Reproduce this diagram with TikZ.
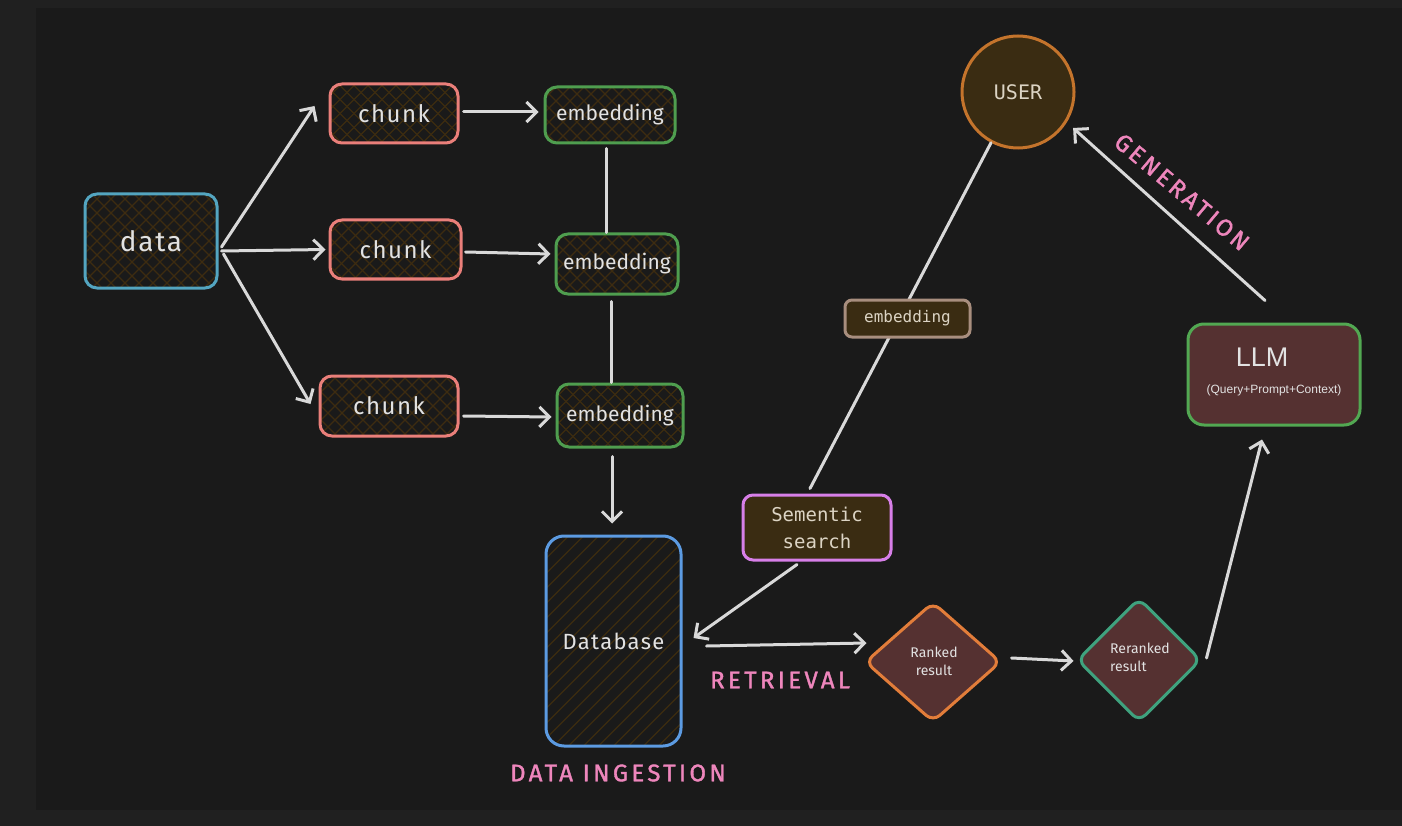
\documentclass[tikz,border=0pt]{standalone}
\usepackage{fontspec}
\setmainfont{Fira Sans}
\newfontfamily\monofont{DejaVu Sans Mono}
\newfontfamily\arialfont{Liberation Sans}
\newfontfamily\wideface[LetterSpace=6]{Fira Sans}
\newfontfamily\stageface[LetterSpace=14,FakeBold=1.5]{Fira Sans}
\usetikzlibrary{arrows.meta,shapes.geometric}

\definecolor{outerbg}{HTML}{202020}
\definecolor{innerbg}{HTML}{1A1A1A}
\definecolor{linec}{HTML}{D9D9D9}
\definecolor{hatchc}{HTML}{3D2C10}
\definecolor{txtc}{HTML}{E2E2E2}
\definecolor{monotxt}{HTML}{DCD4C4}
\definecolor{pinkc}{HTML}{EE86BC}
\definecolor{darkbrown}{HTML}{3A2C12}
\definecolor{maroon}{HTML}{553131}
\definecolor{datab}{HTML}{53A5C0}
\definecolor{chunkb}{HTML}{EA7F7A}
\definecolor{embb}{HTML}{4F9E4F}
\definecolor{dbb}{HTML}{5C9BE2}
\definecolor{semb}{HTML}{D77FE8}
\definecolor{elb}{HTML}{A88E7E}
\definecolor{userb}{HTML}{C4742C}
\definecolor{rankb}{HTML}{E27D3A}
\definecolor{rerankb}{HTML}{3FA27E}
\definecolor{llmb}{HTML}{52A852}

\tikzset{
  crosshatch/.style={path picture={
    \foreach \i in {-320,-306,...,320} {
      \draw[hatchc, line width=1.3pt]
        ([shift={(\i,0)}]path picture bounding box.center) ++(-160,-160) -- ++(320,320);
      \draw[hatchc, line width=1.3pt]
        ([shift={(\i,0)}]path picture bounding box.center) ++(-160,160) -- ++(320,-320);
    }}},
  slanthatch/.style={path picture={
    \foreach \i in {-360,-345,...,360} {
      \draw[hatchc, line width=1.3pt]
        ([shift={(\i,0)}]path picture bounding box.center) ++(-200,200) -- ++(400,-400);
    }}},
  hbox/.style={draw, line width=3pt, rounded corners=12pt, fill=innerbg,
    text=txtc, inner sep=0pt, crosshatch},
  chunkbox/.style={hbox, draw=chunkb, font=\wideface\fontsize{24}{26}\selectfont},
  embbox/.style={hbox, draw=embb, font=\fontsize{21}{23}\selectfont},
  monobox/.style={draw, line width=3pt, rounded corners=10pt, fill=darkbrown,
    text=monotxt, inner sep=0pt, font=\monofont},
  dia/.style={diamond, draw, line width=3pt, rounded corners=9pt, fill=maroon,
    text=txtc, inner sep=0pt, align=center, font=\fontsize{14}{16}\selectfont},
  arr/.style={draw=linec, line width=3pt, line cap=round,
    -{Straight Barb[length=10pt,width=20pt,line width=3pt]}},
  plain/.style={draw=linec, line width=3pt, line cap=round},
  stagelabel/.style={text=pinkc, font=\stageface\fontsize{24}{26}\selectfont, inner sep=0pt}
}

\begin{document}
\begin{tikzpicture}[x=1pt,y=-1pt]
  % canvas
  \fill[outerbg] (0,0) rectangle (1402,826);
  \fill[innerbg] (36,8) rectangle (1402,810);
  \useasboundingbox (0,0) rectangle (1402,826);

  % ingestion nodes
  \node[hbox, draw=datab, minimum width=132pt, minimum height=94pt,
        font=\wideface\fontsize{28}{30}\selectfont] (data) at (151,241) {data};
  \node[chunkbox, minimum width=128pt, minimum height=59pt] (chunk1) at (394,113.5) {chunk};
  \node[chunkbox, minimum width=131pt, minimum height=59pt] (chunk2) at (395.5,249.5) {chunk};
  \node[chunkbox, minimum width=138pt, minimum height=60pt] (chunk3) at (389,406) {chunk};
  \node[embbox, minimum width=130pt, minimum height=56pt] (emb1) at (610,115) {embedding};
  \node[embbox, minimum width=122pt, minimum height=60pt] (emb2) at (617,264) {embedding};
  \node[embbox, minimum width=126pt, minimum height=63pt] (emb3) at (620,415.5) {embedding};
  \node[draw=dbb, line width=3pt, rounded corners=18pt, fill=innerbg, slanthatch,
        text=txtc, inner sep=0pt, minimum width=135pt, minimum height=210pt,
        font=\wideface\fontsize{22}{24}\selectfont] (db) at (613.5,641) {Database};

  % retrieval and generation nodes
  \node[monobox, draw=semb, minimum width=148pt, minimum height=65pt, align=center,
        font=\monofont\fontsize{19}{27}\selectfont] (sem) at (817,527.5) {Sementic\\ search};
  \node[circle, draw=userb, line width=3pt, fill=darkbrown, minimum size=112pt,
        inner sep=0pt, text=monotxt, font=\monofont\fontsize{20}{22}\selectfont]
        (user) at (1018,92) {USER};
  \node[draw=llmb, line width=3pt, rounded corners=16pt, fill=maroon, text=txtc,
        minimum width=172pt, minimum height=101pt, inner sep=0pt] (llm) at (1274,374.5) {};
  \node[text=txtc, font=\arialfont\fontsize{27}{29}\selectfont, inner sep=0pt]
        (llmt) at (1262,357) {LLM};
  \node[text=txtc, font=\arialfont\fontsize{12}{14}\selectfont, inner sep=0pt]
        (llms) at (1274,390) {(Query+Prompt+Context)};
  \node[dia, draw=rankb, minimum width=136pt, minimum height=120pt] (ranked) at (933,662) {};
  \node[text=txtc, align=center, font=\fontsize{14}{18}\selectfont, inner sep=0pt]
        (rankedt) at (934,661) {Ranked\\ result};
  \node[dia, draw=rerankb, minimum width=124pt, minimum height=124pt] (reranked) at (1139,660) {};
  \node[text=txtc, align=left, font=\fontsize{14}{18}\selectfont, inner sep=0pt]
        (rerankedt) at (1140,657) {Reranked\\result};

  % ingestion connectors
  \draw[arr] ([shift={(3,6)}]data.east) -- ([shift={(-14,-7.5)}]chunk1.west);
  \draw[arr] ([shift={(3,10)}]data.east) -- ([shift={(-3,0)}]chunk2.west);
  \draw[arr] ([shift={(5,13)}]data.east) -- ([shift={(-8,-2)}]chunk3.west);
  \draw[arr] ([shift={(4,-1.5)}]chunk1.east) -- ([shift={(-5,-3)}]emb1.west);
  \draw[arr] ([shift={(3,2.5)}]chunk2.east) -- ([shift={(-4,-10)}]emb2.west);
  \draw[arr] ([shift={(4,10)}]chunk3.east) -- ([shift={(-4,1.5)}]emb3.west);
  \draw[plain] ([shift={(-4,4)}]emb1.south) -- ([shift={(-11,0)}]emb2.north);
  \draw[plain] ([shift={(-6,6)}]emb2.south) -- ([shift={(-9,0)}]emb3.north);
  \draw[arr] ([shift={(-8,8)}]emb3.south) -- ([shift={(-1.5,-11)}]db.north);

  % retrieval connectors
  \draw[arr] ([shift={(-20,3)}]sem.south) -- ([shift={(11,-3)}]db.east);
  \draw[arr] ([shift={(24,5)}]db.east) -- ([shift={(3,-19)}]ranked.west);
  \draw[arr] ([shift={(9,-4)}]ranked.east) -- ([shift={(-2,1)}]reranked.west);
  \draw[arr] ([shift={(4,-2)}]reranked.east) -- ([shift={(-12,13)}]llm.south);
  \draw[arr] ([shift={(-9,-22)}]llm.north) -- ([shift={(8,3)}]user.-35);

  % query path through the embedding step
  \draw[plain] (user.-118) -- ([shift={(-7,-5)}]sem.north);
  \node[monobox, draw=elb, rounded corners=7pt, minimum width=125pt, minimum height=37pt,
        font=\monofont\fontsize{16}{18}\selectfont] (embl) at (907.5,318.5) {embedding};

  % stage labels
  \node[stagelabel] (retrieval) at (780,680) {RETRIEVAL};
  \node[stagelabel] (ingestion) at (618,773) {DATA INGESTION};
  \node[stagelabel, rotate=-40] (generation) at (1182,192) {GENERATION};
\end{tikzpicture}
\end{document}
